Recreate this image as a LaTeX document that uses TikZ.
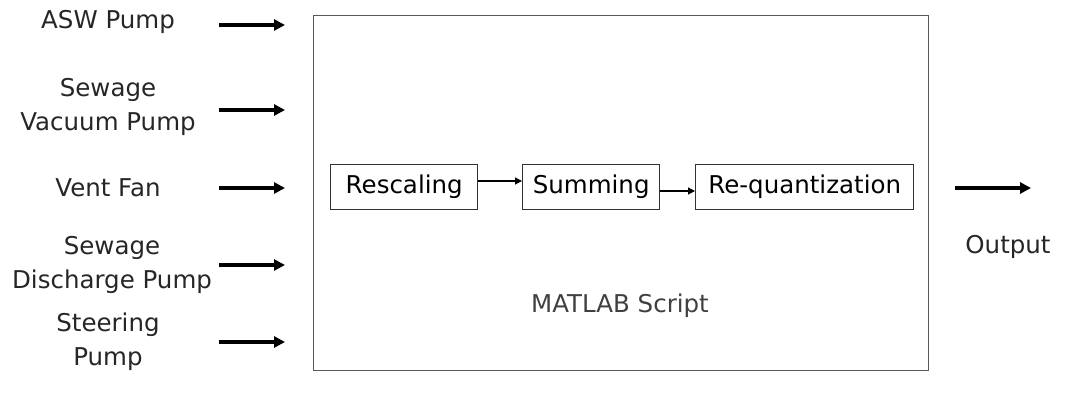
\documentclass[tikz,border=0pt]{standalone}
\usepackage{fontspec}
\setmainfont{DejaVu Sans}
\usetikzlibrary{arrows.meta}
\begin{document}
\begin{tikzpicture}[x=1pt,y=-1pt,
  lbl/.style={font=\fontsize{24.5}{34}\selectfont, align=center, inner sep=0pt, text=black!85},
  inbox/.style={draw=black!80, line width=1.4pt, minimum height=45pt, inner sep=0pt, font=\fontsize{24.5}{28}\selectfont},
  bigarrow/.style={line width=3.5pt, -{Triangle[length=11pt,width=11pt]}},
  smallarrow/.style={line width=1.2pt, -{Triangle[length=7pt,width=7pt]}}]
\useasboundingbox (0,0) rectangle (1065,398);
% main box
\node[draw=black!65, line width=1.3pt, minimum width=615pt, minimum height=355pt, inner sep=0pt, anchor=north west] (main) at (313,15) {};
\node[lbl, text=black!75] (matlab) at (620,306) {MATLAB Script};
% inputs
\node[lbl] (in1) at (108,22) {ASW Pump};
\node[lbl] (in2) at (108,107) {Sewage\\Vacuum Pump};
\node[lbl] (in3) at (108,188) {Vent Fan};
\node[lbl] (in4) at (112,265) {Sewage\\Discharge Pump};
\node[lbl] (in5) at (108,342) {Steering\\Pump};
\coordinate (s1) at (219,25); \coordinate (e1) at (285,25);
\coordinate (s2) at (219,110); \coordinate (e2) at (285,110);
\coordinate (s3) at (219,188); \coordinate (e3) at (285,188);
\coordinate (s4) at (219,265); \coordinate (e4) at (285,265);
\coordinate (s5) at (219,342); \coordinate (e5) at (285,342);
\foreach \i in {1,...,5} {\draw[bigarrow] (s\i) -- (e\i);}
% inner boxes
\node[inbox, minimum width=147pt, anchor=west] (resc) at (330,187) {Rescaling};
\node[inbox, minimum width=137pt, anchor=west] (summ) at (522,187) {Summing};
\node[inbox, minimum width=218pt, anchor=west] (requ) at (695,187) {Re-quantization};
\draw[smallarrow] (resc.east |- 0,181) -- (summ.west |- 0,181);
\draw[smallarrow] (summ.east |- 0,191) -- (requ.west |- 0,191);
% output
\coordinate (os) at (955,188); \coordinate (oe) at (1031,188);
\draw[bigarrow] (os) -- (oe);
\node[lbl] (out) at (1008,247) {Output};
\end{tikzpicture}
\end{document}
